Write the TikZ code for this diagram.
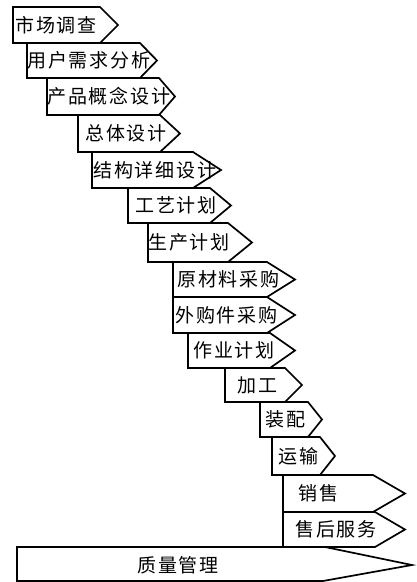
\documentclass[tikz,border=0pt]{standalone}
\usepackage{fontspec}
\setmainfont{Noto Sans CJK SC}[LetterSpace=10]
\tikzset{
  boxline/.style={draw=black, fill=white, line width=1.7pt, line join=miter},
  lbl/.style={inner sep=0pt, font=\fontsize{19}{21}\selectfont, anchor=west}
}
\newcommand{\pbox}[8]{%
  \draw[boxline] (#2,#3) -- (#5,#3) -- (#6,{(#3+#4)/2}) -- (#5,#4) -- (#2,#4) -- cycle;
  \node[lbl] (#1) at (#7,{(#3+#4)/2}) {#8};
}
\begin{document}
\begin{tikzpicture}[x=1pt,y=-1pt]
\useasboundingbox (0,0) rectangle (416,582);
\fill[white] (0,0) rectangle (416,582);
\pbox{b1}{13}{7}{43}{100}{118}{15}{市场调查}
\pbox{b2}{27}{43}{78}{140}{157}{27}{用户需求分析}
\pbox{b3}{47}{78}{115}{159}{175}{47}{产品概念设计}
\pbox{b4}{78}{115}{152}{160}{180}{85}{总体设计}
\pbox{b5}{92}{152}{188}{193}{221}{93}{结构详细设计}
\pbox{b6}{128}{188}{223}{210}{231}{135}{工艺计划}
\pbox{b7}{148}{223}{262}{228}{252}{148}{生产计划}
\pbox{b8}{173}{262}{297}{267}{295}{177}{原材料采购}
\pbox{b9}{173}{297}{333}{267}{295}{175}{外购件采购}
\pbox{b10}{188}{333}{368}{270}{295}{193}{作业计划}
\pbox{b11}{225}{368}{402}{285}{302}{237}{加工}
\pbox{b12}{260}{402}{437}{308}{322}{265}{装配}
\pbox{b13}{272}{437}{475}{320}{335}{278}{运输}
\pbox{b14}{283}{475}{512}{373}{405}{298}{销售}
\pbox{b15}{283}{512}{547}{375}{405}{295}{售后服务}
\draw[boxline] (17,547) -- (325,547) -- (412,565) -- (323,581) -- (17,581) -- cycle;
\node[lbl, anchor=center] (b16) at (178,565) {质量管理};
\end{tikzpicture}
\end{document}
